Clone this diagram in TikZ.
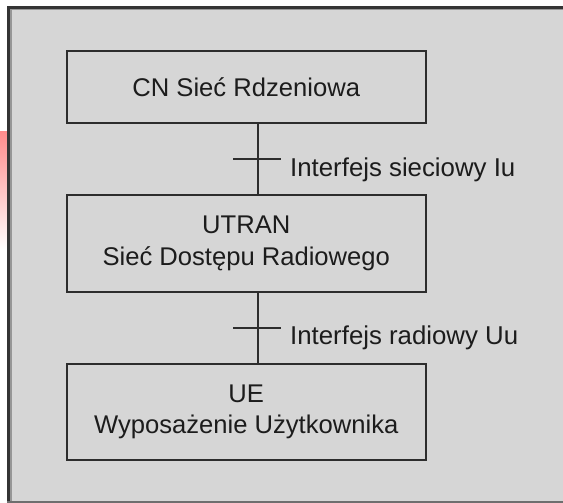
\documentclass[tikz,border=0pt]{standalone}
\usepackage{fontspec}
\setmainfont{Liberation Sans}
\definecolor{panel}{RGB}{214,214,214}
\definecolor{framedark}{RGB}{52,52,52}
\definecolor{framelight}{RGB}{150,150,150}
\definecolor{framebottom}{RGB}{110,110,110}
\definecolor{ink}{RGB}{45,45,45}
\definecolor{textcol}{RGB}{28,28,28}
\definecolor{glow}{RGB}{255,140,140}
\begin{document}
\begin{tikzpicture}[x=1pt,y=-1pt,
  unit/.style={draw=ink, line width=2pt, minimum width=359.5pt, inner sep=0pt,
    align=center, text=textcol, font=\fontsize{25.6}{31.5}\selectfont},
  link/.style={draw=ink, line width=2pt},
  iflabel/.style={inner sep=0pt, text=textcol, anchor=base west,
    font=\fontsize{25.8}{30}\selectfont}]
  \useasboundingbox (0,0) rectangle (563,503);
  % page and window frame
  \fill[white] (0,0) rectangle (563,503);
  \shade[top color=glow, bottom color=white] (0,132) rectangle (7,250);
  \fill[panel] (7,6) rectangle (563,503);
  \fill[framelight] (10,9) rectangle (11.5,501);
  \fill[framelight] (10,9) rectangle (563,10.5);
  \fill[framedark] (7,6) rectangle (10,503);
  \fill[framedark] (7,6) rectangle (563,9);
  \fill[framebottom] (7,501) rectangle (563,503);
  % the three layers
  \node[unit, minimum height=72pt] (cn) at (246.25,87) {CN Sieć Rdzeniowa};
  \node[unit, minimum height=97pt] (utran) at (246.25,243.5) {UTRAN\\Sieć Dostępu Radiowego};
  \node[unit, minimum height=96pt] (ue) at (246.25,412) {UE\\Wyposażenie Użytkownika};
  % interfaces between the layers
  \coordinate (bus) at (258,0);
  \draw[link] (cn.south -| bus) -- (utran.north -| bus);
  \draw[link] (utran.south -| bus) -- (ue.north -| bus);
  \coordinate (iuL) at (233,159);
  \coordinate (iuR) at (281,159);
  \coordinate (uuL) at (233,328);
  \coordinate (uuR) at (281,328);
  \draw[link] (iuL) -- (iuR);
  \draw[link] (uuL) -- (uuR);
  \node[iflabel] (iu) at (290,176) {Interfejs sieciowy Iu};
  \node[iflabel] (uu) at (290,344) {Interfejs radiowy Uu};
\end{tikzpicture}
\end{document}
